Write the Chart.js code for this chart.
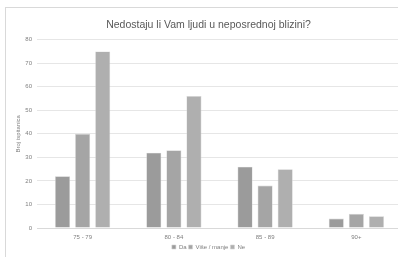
<!DOCTYPE html>
<html>
<head>
<meta charset="utf-8">
<script src="https://cdn.jsdelivr.net/npm/chart.js@4"></script>
<style>
  html, body { margin: 0; padding: 0; background: #fff; overflow: hidden; width: 398px; height: 257px; }
  #frame { position: absolute; left: 5px; top: 7px; width: 400px; height: 260px;
           border-left: 1px solid #d9d9d9; border-top: 1px solid #d9d9d9; }
  #wrap { position: absolute; left: 0; top: 0; width: 402px; height: 260px; }
</style>
</head>
<body>
<div id="frame"></div>
<div id="wrap"><canvas id="chart"></canvas></div>
<script>
const categories = ["75 - 79", "80 - 84", "85 - 89", "90+"];
const seriesNames = ["Da", "Više / manje", "Ne"];
const da = [22, 32, 26, 4];
const viseManje = [40, 33, 18, 6];
const ne = [75, 56, 25, 5];
const colors = ["#9b9b9b", "#a5a5a5", "#afafaf"];

/* ================= CHART ================= */

const chart = new Chart(document.getElementById("chart"), {
  type: "bar",
  data: {
    labels: categories,
    datasets: [da, viseManje, ne].map((values, i) => ({
      label: seriesNames[i],
      data: values,
      backgroundColor: colors[i],
      borderColor: "#d4d4d4",
      borderWidth: 0.6,
      categoryPercentage: 0.66,
      barPercentage: 0.75
    }))
  },
  options: {
    responsive: true,
    maintainAspectRatio: false,
    animation: false,
    layout: { padding: { left: 15, top: 8, right: 0, bottom: 0 } },
    plugins: {
      title: {
        display: true,
        text: "Nedostaju li Vam ljudi u neposrednoj blizini?",
        color: "#595959",
        font: { family: "Arial, Liberation Sans", size: 10.5, weight: "normal" },
        padding: { top: 11, bottom: 8 }
      },
      legend: {
        position: "bottom",
        labels: {
          boxWidth: 4,
          boxHeight: 4,
          padding: 2,
          color: "#7f7f7f",
          font: { family: "Arial, Liberation Sans", size: 6 }
        }
      },
      tooltip: { enabled: false }
    },
    scales: {
      x: {
        grid: { display: false, drawTicks: false },
        border: { color: "#d9d9d9" },
        ticks: {
          color: "#7f7f7f",
          padding: 6,
          font: { family: "Arial, Liberation Sans", size: 6 }
        },
        afterFit: scale => { scale.height = 14; }
      },
      y: {
        min: 0,
        max: 80,
        ticks: {
          stepSize: 10,
          color: "#7f7f7f",
          padding: 5,
          font: { family: "Arial, Liberation Sans", size: 6 }
        },
        grid: { color: "#e6e6e6", drawTicks: false },
        border: { display: false },
        title: {
          display: true,
          text: "Broj ispitanica",
          color: "#7f7f7f",
          padding: { top: 0, bottom: 2 },
          font: { family: "Arial, Liberation Sans", size: 6 }
        },
        afterFit: scale => { scale.width = 22; }
      }
    }
  }
});
</script>
</body>
</html>
